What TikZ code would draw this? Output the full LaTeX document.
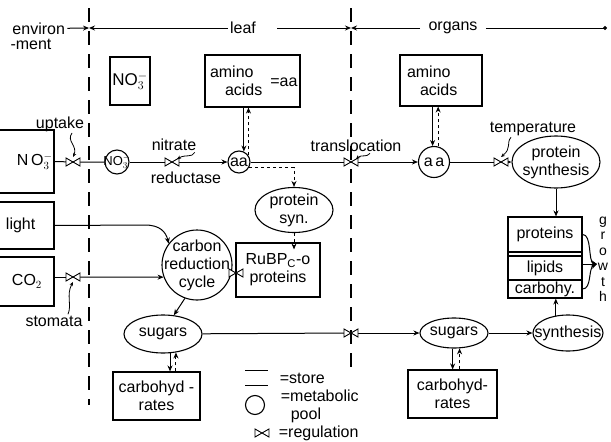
\documentclass[tikz,border=0pt]{standalone}
\usepackage{fontspec}
\setmainfont{Liberation Sans}
\usetikzlibrary{shapes.geometric,arrows.meta}
\newcommand{\nothree}{NO$_3^-$}
\begin{document}
\begin{tikzpicture}[x=1pt,y=-1pt, line width=1pt,
  font=\fontsize{16}{18}\selectfont,
  arr/.style={-{Stealth[length=6pt,width=5pt]}},
  store/.style={draw, rectangle, line width=1.1pt, inner sep=2pt, align=center},
  pool/.style={draw, circle, line width=1.1pt, inner sep=0pt, align=center},
  proc/.style={draw, ellipse, line width=1.1pt, inner sep=0pt, align=center},
  divider/.style={dash pattern=on 14pt off 9pt, line width=1.3pt},
  ctrl/.style={line width=0.8pt, -{Stealth[length=4pt,width=3.5pt]}},
  lbl/.style={inner sep=1pt},
  valve/.pic={\draw[line width=0.9pt, fill=white] (-7,-4)--(0,0)--(-7,4)--cycle (7,-4)--(0,0)--(7,4)--cycle;},
]
\useasboundingbox (0,0) rectangle (611,442);

% dividers
\coordinate (d1t) at (89,8); \coordinate (d1b) at (89,405);
\coordinate (d2t) at (351,8); \coordinate (d2b) at (351,368);
\draw[divider] (d1t) -- (d1b);
\draw[divider] (d2t) -- (d2b);

% header
\node[anchor=base west, inner sep=0pt] (env1) at (12,34) {environ};
\node[anchor=base west, inner sep=0pt] (env2) at (10,49) {-ment};
\coordinate (h1) at (89,28);
\coordinate (h2) at (351,28);
\coordinate (hl2) at (277,28);
\coordinate (hend) at (607,28);
\node[inner xsep=2pt] (leaf) at (243,28) {leaf};
\node[inner xsep=8pt] (organs) at (453,28) {organs};
\draw[arr] ([xshift=2pt]env1.east) -- (h1);
\draw[arr] (leaf.west) -- (h1);
\draw[arr] (hl2) -- (h2);
\draw[arr] (organs.west) -- (h2);
\draw[-{Circle[length=4pt]}] (organs.east) -- (hend);

% stores
\node[store, minimum width=40pt, minimum height=48pt, inner sep=0pt] (no3L) at (130,81) {\fontsize{17}{19}\selectfont\nothree};
\node[store, minimum width=95pt, minimum height=52pt, text width=85pt, inner xsep=5pt, align=left] (aaL) at (252.5,81) {amino\\\hspace*{15pt}acids};
\node[anchor=east, lbl] (aaeq) at (299,82) {=aa};
\node[store, minimum width=82pt, minimum height=51pt, text width=72pt, inner xsep=5pt, align=left] (aaO) at (441,80.5) {\hspace*{2pt}amino\\\hspace*{15pt}acids};

% environment boxes
\node[store, minimum width=60pt, minimum height=63pt, text width=52pt, inner xsep=4pt, align=left] (no3E) at (24,161.5) {\hspace*{19pt}N\,O$_3^-$};
\node[store, minimum width=60pt, minimum height=47pt, text width=52pt, inner xsep=4pt, align=left] (light) at (24,225.5) {\hspace*{8pt}light};
\node[store, minimum width=60pt, minimum height=49pt, text width=52pt, inner xsep=4pt, align=left] (co2) at (24,281.5) {\hspace*{14pt}CO$_2$};

% valves positions
\coordinate (vup) at (73,162);
\coordinate (vsto) at (73,277);
\coordinate (vnr) at (172,162);
\coordinate (vtr1) at (351,162);
\coordinate (vtr2) at (351,333);
\coordinate (vtemp) at (501,162);
\coordinate (vrub) at (236,273);

% pools
\node[pool, minimum size=24pt, inner sep=-6pt, font=\fontsize{13}{14}\selectfont] (no3P) at (117,162) {\nothree};
\node[pool, minimum size=22pt, inner sep=-2pt] (aaPL) at (239,162) {aa};
\node[pool, minimum size=31pt] (aaPO) at (434,162) {a\,a};
\node[pool, minimum size=70pt, inner sep=-8pt] (crc) at (197,265) {carbon\\reduction\\cycle};

% processes
\node[proc, minimum width=78pt, minimum height=45pt, inner sep=-1pt] (psL) at (294,210) {protein\\syn.};
\node[proc, minimum width=88pt, minimum height=52pt, inner sep=-3pt] (psO) at (556,162) {protein\\synthesis};
\node[proc, minimum width=78pt, minimum height=38pt] (sugL) at (163,334) {sugars};
\node[proc, minimum width=68pt, minimum height=30pt, inner sep=-3pt] (sugO) at (454,333) {sugars};
\node[proc, minimum width=70pt, minimum height=36pt, inner xsep=-12pt] (syn) at (568,333) {synthesis};

% other boxes
\node[store, minimum width=84pt, minimum height=54pt] (rub) at (278,270) {RuBP\textsubscript{C}-o\\proteins};
\node[store, minimum width=87pt, minimum height=48pt] (carbL) at (156.5,396) {carbohyd -\\rates};
\node[store, minimum width=89pt, minimum height=48pt] (carbO) at (452.5,394) {carbohyd-\\rates};

% stack
\node[draw, line width=1.1pt, minimum width=74pt, minimum height=81pt] (stack) at (545,257.5) {};
\node[store, minimum width=74pt, minimum height=35pt] (prot) at (545,234.5) {proteins};
\node[store, minimum width=74pt, minimum height=24pt] (lip) at (545,268) {lipids};
\node[store, minimum width=74pt, minimum height=18pt, inner sep=0pt] (carb) at (545,289) {carbohy.};
\node[align=center, font=\fontsize{14}{15.5}\selectfont, inner sep=0pt] (growth) at (603,259) {g\\r\\o\\w\\t\\h};
\coordinate (gw) at (597,264);

% labels
\node[lbl] (upt) at (60,124) {uptake};
\node[lbl] (stom) at (54,321) {stomata};
\node[lbl] (nit) at (174,145) {nitrate};
\node[lbl] (red) at (186,178) {reductase};
\node[lbl] (trl) at (356,146) {translocation};
\node[lbl] (temp) at (533,129) {temperature};

% connectors
\draw (no3E.east) -- (vup) -- (no3P);
\draw (no3P) -- (vnr);
\draw[arr] (vnr) -- (aaPL);
\draw[arr] (aaPL.65 |- aaL.south) -- (aaPL.65);
\draw[arr, dashed] (aaPL.35) -- (aaPL.35 |- aaL.south);
\draw[arr] (aaPO.95 |- aaO.south) -- (aaPO.95);
\draw[arr, dashed] (aaPO.75) -- (aaPO.75 |- aaO.south);
\draw[arr, dashed] (aaPL.-30) -| (psL.north);
\draw (aaPL) -- (vtr1);
\draw[arr] (vtr1) -- (aaPO);
\draw (aaPO) -- (vtemp);
\draw[arr] (vtemp) -- (psO);
\draw[arr] (psO.south) -- (psO.south |- prot.north);
\draw[arr] (syn.125) -- (syn.125 |- carb.south);
\draw[arr, dashed] (psL.south) -- ([yshift=-7pt]psL.south |- rub.north);
\draw (rub.west |- vrub) -- (vrub -| crc.east);

\draw (co2.east |- vsto) -- (vsto);
\draw[arr] (vsto) -- (crc.200);
\draw[arr] (light.east) -- (145,225) .. controls (160,225) and (166,232) .. (crc.143);
\draw[arr] (crc.250) -- (sugL.60);
\draw (sugL) -- (vtr2);
\draw[arr] (vtr2) -- (sugO);
\draw[arr] (sugO) -- (syn);
\draw[arr] (sugL.-70) -- (sugL.-70 |- carbL.north);
\draw[arr, dashed] (sugL.-55 |- carbL.north) -- (sugL.-55);
\draw[arr] (sugO.-95) -- (sugO.-95 |- carbO.north);
\draw[arr, dashed] (sugO.-70 |- carbO.north) -- (sugO.-70);

% growth arrows
\draw[arr] (prot.east) .. controls (592,234) and (588,262) .. (gw);
\draw[arr] (gw -| lip.east) -- (gw);
\draw[arr] (carb.east) .. controls (592,289) and (588,268) .. (gw);

% regulator marks
\draw[ctrl] ([xshift=12pt]upt.south) .. controls (66,141) and (78,146) .. ([yshift=5pt]vup);
\draw[ctrl] ([xshift=14pt]stom.north) .. controls (72,305) and (66,295) .. ([yshift=-5pt]vsto);
\draw[ctrl] ([xshift=-3pt]nit.south east) .. controls (192,158) and (186,154) .. ([xshift=5pt,yshift=3pt]vnr);
\draw[ctrl] ([xshift=14pt]trl.south) .. controls (366,158) and (362,154) .. ([xshift=5pt,yshift=3pt]vtr1);
\draw[ctrl] ([xshift=-22pt]temp.south) .. controls (506,143) and (512,148) .. ([yshift=5pt]vtemp);

% valves
\foreach \v in {vup,vsto,vnr,vtr1,vtr2,vtemp,vrub} \pic at (\v) {valve};

% legend
\coordinate (ls1) at (245,370); \coordinate (ls2) at (268,370);
\coordinate (ls3) at (245,385); \coordinate (ls4) at (268,385);
\draw (ls1) -- (ls2);
\draw (ls3) -- (ls4);
\node[anchor=west] (lgstore) at (276,378) {=store};
\node[pool, minimum size=19pt] (lgpool) at (255,405) {};
\node[anchor=west, align=left] (lgpooltxt) at (277,406) {=metabolic\\\hspace*{10pt}pool};
\coordinate (lgv) at (262,433);
\pic at (lgv) {valve};
\node[anchor=west] (lgreg) at (275,433) {=regulation};
\end{tikzpicture}
\end{document}
